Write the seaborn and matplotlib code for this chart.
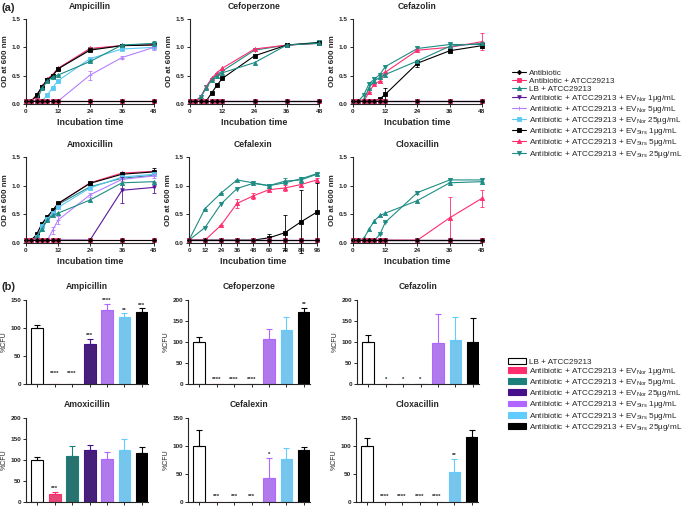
import matplotlib
matplotlib.use("Agg")
import matplotlib.pyplot as plt
from matplotlib.lines import Line2D
from matplotlib.patches import Patch
import seaborn as sns

sns.set_style("ticks")
plt.rcParams['font.family'] = ['Liberation Sans', 'DejaVu Sans']
plt.rcParams['mathtext.fontset'] = 'custom'
plt.rcParams['mathtext.rm'] = 'Liberation Sans'
plt.rcParams['axes.linewidth'] = 0.8

# ---- (a) growth curves: OD600 over incubation time ----
t_h = [0, 2, 4, 6, 8, 10, 12, 24, 36, 48]
t_cefalexin = [0, 12, 24, 36, 48, 60, 72, 84, 96]
base10 = [0.05, 0.05, 0.05, 0.05, 0.05, 0.05, 0.05, 0.05, 0.05, 0.05]
base9 = [0.05, 0.05, 0.05, 0.05, 0.05, 0.05, 0.05, 0.05, 0.05]

series_keys = ["abx", "abx_atcc", "lb", "nor1", "nor5", "nor25", "strs1", "strs5", "strs25"]
series_labels = [
    "Antibiotic",
    "Antibiotic + ATCC29213",
    "LB + ATCC29213",
    "Antibiotic + ATCC29213 + EV$_{\\mathrm{Nor}}$ 1µg/mL",
    "Antibiotic + ATCC29213 + EV$_{\\mathrm{Nor}}$ 5µg/mL",
    "Antibiotic + ATCC29213 + EV$_{\\mathrm{Nor}}$ 25µg/mL",
    "Antibiotic + ATCC29213 + EV$_{\\mathrm{Strs}}$ 1µg/mL",
    "Antibiotic + ATCC29213 + EV$_{\\mathrm{Strs}}$ 5µg/mL",
    "Antibiotic + ATCC29213 + EV$_{\\mathrm{Strs}}$ 25µg/mL",
]

amp_od = {
    "abx": base10, "abx_atcc": base10, "nor1": base10,
    "lb": [0.05, 0.05, 0.05, 0.28, 0.40, 0.48, 0.51, 0.75, 1.04, 1.07],
    "nor5": [0.05, 0.05, 0.05, 0.05, 0.05, 0.05, 0.05, 0.51, 0.82, 1.00],
    "nor25": [0.05, 0.05, 0.05, 0.05, 0.16, 0.29, 0.41, 0.80, 0.97, 1.00],
    "strs1": [0.05, 0.05, 0.16, 0.30, 0.43, 0.50, 0.62, 0.95, 1.03, 1.04],
    "strs5": [0.05, 0.05, 0.15, 0.31, 0.44, 0.52, 0.63, 0.98, 1.03, 1.05],
    "strs25": [0.05, 0.05, 0.14, 0.30, 0.42, 0.50, 0.62, 0.97, 1.03, 1.06],
}
amp_err = {"nor5": [0, 0, 0, 0, 0, 0, 0, 0.08, 0.02, 0.04],
           "lb": [0, 0, 0, 0, 0, 0, 0, 0, 0, 0.05]}

cfp_od = {
    "abx": base10, "abx_atcc": base10, "nor1": base10, "nor5": base10, "nor25": base10,
    "lb": [0.05, 0.05, 0.12, 0.28, 0.42, 0.50, 0.55, 0.73, 1.04, 1.07],
    "strs1": [0.05, 0.05, 0.05, 0.05, 0.19, 0.33, 0.45, 0.85, 1.04, 1.08],
    "strs5": [0.05, 0.05, 0.13, 0.30, 0.45, 0.55, 0.63, 0.97, 1.04, 1.07],
    "strs25": [0.05, 0.05, 0.12, 0.30, 0.43, 0.52, 0.58, 0.95, 1.04, 1.09],
}
cfp_err = {}

cfz_od = {
    "abx": base10, "abx_atcc": base10, "nor1": base10, "nor5": base10, "nor25": base10,
    "lb": [0.05, 0.05, 0.08, 0.29, 0.41, 0.47, 0.52, 0.76, 1.02, 1.07],
    "strs1": [0.05, 0.05, 0.05, 0.05, 0.05, 0.09, 0.17, 0.72, 0.94, 1.03],
    "strs5": [0.05, 0.05, 0.05, 0.21, 0.36, 0.40, 0.56, 0.95, 1.00, 1.10],
    "strs25": [0.05, 0.05, 0.16, 0.36, 0.44, 0.52, 0.66, 0.98, 1.05, 1.05],
}
cfz_err = {"strs1": [0, 0, 0, 0, 0, 0.02, 0.12, 0.06, 0.03, 0.05],
           "strs5": [0, 0, 0, 0, 0, 0, 0, 0, 0, 0.15]}

amx_od = {
    "abx": base10, "abx_atcc": base10,
    "lb": [0.05, 0.05, 0.10, 0.25, 0.40, 0.48, 0.52, 0.75, 1.05, 1.07],
    "nor1": [0.05, 0.05, 0.05, 0.05, 0.05, 0.05, 0.05, 0.05, 0.92, 0.97],
    "nor5": [0.05, 0.05, 0.05, 0.05, 0.05, 0.22, 0.40, 0.84, 1.11, 1.17],
    "nor25": [0.05, 0.05, 0.10, 0.30, 0.42, 0.52, 0.62, 0.96, 1.15, 1.20],
    "strs1": [0.05, 0.05, 0.15, 0.34, 0.46, 0.57, 0.69, 1.04, 1.20, 1.24],
    "strs5": [0.05, 0.05, 0.14, 0.33, 0.45, 0.56, 0.68, 1.05, 1.22, 1.25],
    "strs25": [0.05, 0.05, 0.10, 0.25, 0.40, 0.50, 0.67, 0.98, 1.13, 1.18],
}
amx_err = {"nor1": [0, 0, 0, 0, 0, 0, 0, 0, 0.23, 0.10],
           "nor5": [0, 0, 0, 0, 0, 0.06, 0.07, 0.04, 0.03, 0.03],
           "strs1": [0, 0, 0, 0, 0, 0, 0, 0, 0, 0.06]}

cfx_od = {
    "abx": base9, "abx_atcc": base9, "nor1": base9, "nor5": base9, "nor25": base9,
    "lb": [0.05, 0.60, 0.87, 1.10, 1.05, 1.00, 1.08, 1.10, 1.20],
    "strs1": [0.05, 0.05, 0.05, 0.05, 0.05, 0.09, 0.18, 0.37, 0.54],
    "strs5": [0.05, 0.05, 0.31, 0.69, 0.82, 0.93, 0.96, 1.02, 1.10],
    "strs25": [0.05, 0.27, 0.68, 0.95, 1.04, 1.00, 1.05, 1.12, 1.21],
}
cfx_err = {"strs1": [0, 0, 0, 0, 0, 0.07, 0.30, 0.55, 0.50],
           "strs5": [0, 0, 0, 0.08, 0.06, 0.03, 0.05, 0.03, 0.03],
           "lb": [0, 0, 0, 0, 0, 0, 0.05, 0.05, 0.02]}

clx_od = {
    "abx": base10, "abx_atcc": base10, "nor1": base10, "nor5": base10, "nor25": base10,
    "strs1": base10,
    "lb": [0.05, 0.05, 0.08, 0.24, 0.39, 0.48, 0.52, 0.74, 1.05, 1.07],
    "strs5": [0.05, 0.05, 0.05, 0.05, 0.05, 0.05, 0.05, 0.05, 0.44, 0.78],
    "strs25": [0.05, 0.05, 0.05, 0.05, 0.05, 0.15, 0.36, 0.88, 1.10, 1.10],
}
clx_err = {"strs5": [0, 0, 0, 0, 0, 0, 0, 0, 0.37, 0.15],
           "strs25": [0, 0, 0, 0, 0, 0, 0, 0.03, 0.03, 0.03]}

# ---- (b) %CFU bars ----
bar_keys = ["lb", "nor1", "nor5", "nor25", "strs1", "strs5", "strs25"]
bar_labels = [
    "LB + ATCC29213",
    "Antibiotic + ATCC29213 + EV$_{\\mathrm{Nor}}$ 1µg/mL",
    "Antibiotic + ATCC29213 + EV$_{\\mathrm{Nor}}$ 5µg/mL",
    "Antibiotic + ATCC29213 + EV$_{\\mathrm{Nor}}$ 25µg/mL",
    "Antibiotic + ATCC29213 + EV$_{\\mathrm{Strs}}$ 1µg/mL",
    "Antibiotic + ATCC29213 + EV$_{\\mathrm{Strs}}$ 5µg/mL",
    "Antibiotic + ATCC29213 + EV$_{\\mathrm{Strs}}$ 25µg/mL",
]
amp_cfu = [100, 0, 0, 71, 133, 119, 129]
amp_cfu_err = [5, 0, 0, 9, 10, 7, 6]
amp_sig = ["", "****", "****", "***", "****", "**", "***"]
cfp_cfu = [100, 0, 0, 0, 108, 129, 171]
cfp_cfu_err = [11, 0, 0, 0, 22, 31, 11]
cfp_sig = ["", "****", "****", "****", "", "", "**"]
cfz_cfu = [100, 0, 0, 0, 97, 105, 101]
cfz_cfu_err = [17, 0, 0, 0, 70, 54, 55]
cfz_sig = ["", "*", "*", "*", "", "", ""]
amx_cfu = [100, 20, 109, 125, 103, 125, 117]
amx_cfu_err = [7, 4, 24, 10, 17, 24, 13]
amx_sig = ["", "***", "", "", "", "", ""]
cfx_cfu = [100, 0, 0, 0, 43, 76, 93]
cfx_cfu_err = [29, 0, 0, 0, 36, 20, 5]
cfx_sig = ["", "***", "***", "***", "*", "", ""]
clx_cfu = [100, 0, 0, 0, 0, 53, 116]
clx_cfu_err = [15, 0, 0, 0, 0, 24, 13]
clx_sig = ["", "****", "****", "****", "****", "**", ""]

# styles
PINK, TEAL = "#FF2D6E", "#1E8C84"
line_style = {
    "abx": dict(color="black", marker="D", ms=2.2),
    "abx_atcc": dict(color=PINK, marker="s", ms=2.6),
    "lb": dict(color=TEAL, marker="^", ms=3),
    "nor1": dict(color="#5A189A", marker="v", ms=2.6),
    "nor5": dict(color="#B580FF", marker="+", ms=3.5),
    "nor25": dict(color="#5BC8F5", marker="s", ms=2.8),
    "strs1": dict(color="black", marker="s", ms=3.2),
    "strs5": dict(color=PINK, marker="^", ms=3),
    "strs25": dict(color=TEAL, marker="v", ms=3),
}
bar_colors = ["white", PINK, "#1B7F7B", "#45108A", "#B067FF", "#63CCFF", "black"]

W, H = 685, 508


def box(l, t, r, b):
    return [l / W, 1 - b / H, (r - l) / W, (b - t) / H]


TICK_FS, LAB_FS, TITLE_FS = 4.6, 5.8, 6.2
fig = plt.figure(figsize=(6.85, 5.08), dpi=100)


def style_axis(ax):
    sns.despine(ax=ax)
    ax.tick_params(direction="out", length=2.2, width=0.7, pad=1.5, labelsize=TICK_FS)
    for lab in ax.get_xticklabels() + ax.get_yticklabels():
        lab.set_fontweight("bold")


def growth_panel(rect, title, t, od, err, xmax, xticks):
    ax = fig.add_axes(box(*rect))
    for k in reversed(series_keys):
        s = line_style[k]
        sns.lineplot(x=t, y=od[k], ax=ax, color=s["color"], marker=s["marker"],
                     markersize=s["ms"], markeredgecolor=s["color"], markeredgewidth=0.6,
                     linewidth=0.8, errorbar=None, clip_on=False, legend=False)
        if k in err:
            ax.errorbar(t, od[k], yerr=err[k], fmt="none", ecolor=s["color"],
                        elinewidth=0.6, capsize=1.4, capthick=0.6, clip_on=False)
    ax.set_xlim(0, xmax)
    ax.set_ylim(0, 1.5)
    ax.set_xticks(xticks)
    ax.set_yticks([0, 0.5, 1.0, 1.5])
    ax.set_yticklabels(["0.0", "0.5", "1.0", "1.5"])
    ax.set_xlabel("Incubation time", fontsize=LAB_FS + 0.6, fontweight="bold", labelpad=3)
    ax.set_ylabel("OD at 600 nm", fontsize=LAB_FS, fontweight="bold", labelpad=2)
    ax.set_title(title, fontsize=TITLE_FS, fontweight="bold", pad=7)
    style_axis(ax)
    return ax


std_ticks = [0, 12, 24, 36, 48]
growth_panel((26, 19, 154, 104), "Ampicillin", t_h, amp_od, amp_err, 48, std_ticks)
growth_panel((190, 19, 319, 104), "Cefoperzone", t_h, cfp_od, cfp_err, 48, std_ticks)
growth_panel((353, 19, 482, 104), "Cefazolin", t_h, cfz_od, cfz_err, 48, std_ticks)
growth_panel((26, 157, 154, 243), "Amoxicillin", t_h, amx_od, amx_err, 48, std_ticks)
growth_panel((189, 157, 317, 243), "Cefalexin", t_cefalexin, cfx_od, cfx_err, 96,
             [0, 12, 24, 36, 48, 60, 72, 84, 96])
growth_panel((353, 157, 482, 243), "Cloxacillin", t_h, clx_od, clx_err, 48, std_ticks)


def cfu_panel(rect, title, vals, errs, sig, ymax, step, zero_star):
    ax = fig.add_axes(box(*rect))
    sns.barplot(x=bar_keys, y=vals, hue=bar_keys, palette=bar_colors, legend=False,
                width=0.68, ax=ax, linewidth=0.8)
    for p, c in zip(ax.patches, bar_colors):
        p.set_edgecolor("black" if c == "white" else c)
    for i, (v, e, c) in enumerate(zip(vals, errs, bar_colors)):
        ec = "black" if c == "white" else c
        if e > 0:
            ax.errorbar(i, v, yerr=[[0], [e]], fmt="none", ecolor=ec,
                        elinewidth=0.8, capsize=2.2, capthick=0.8, clip_on=False)
        if sig[i]:
            y = v + e + ymax * 0.01 if v > 0 else zero_star
            ax.text(i, y, sig[i], ha="center", va="bottom", fontsize=4.3,
                    fontweight="bold")
    ax.set_xlim(-0.65, 6.35)
    ax.set_ylim(0, ymax)
    ax.set_yticks(list(range(0, ymax + 1, step)))
    ax.set_xticks(range(7))
    ax.set_xticklabels([])
    ax.set_xlabel("")
    ax.set_ylabel("%CFU", fontsize=5, labelpad=2)
    ax.set_title(title, fontsize=TITLE_FS, fontweight="bold", pad=8)
    style_axis(ax)
    return ax


cfu_panel((26, 300, 148, 384), "Ampicillin", amp_cfu, amp_cfu_err, amp_sig, 150, 50, 14)
cfu_panel((188, 300, 310, 384), "Cefoperzone", cfp_cfu, cfp_cfu_err, cfp_sig, 200, 50, 6)
cfu_panel((357, 300, 479, 384), "Cefazolin", cfz_cfu, cfz_cfu_err, cfz_sig, 200, 50, 6)
cfu_panel((26, 418, 148, 502), "Amoxicillin", amx_cfu, amx_cfu_err, amx_sig, 200, 50, 6)
cfu_panel((188, 418, 310, 502), "Cefalexin", cfx_cfu, cfx_cfu_err, cfx_sig, 150, 50, 5)
cfu_panel((356, 418, 478, 502), "Cloxacillin", clx_cfu, clx_cfu_err, clx_sig, 150, 50, 5)

# legends
LEG_FS = 5.9
line_handles = [Line2D([], [], color=line_style[k]["color"], marker=line_style[k]["marker"],
                       markersize=line_style[k]["ms"], markeredgewidth=0.6, linewidth=0.8)
                for k in series_keys]
fig.legend(line_handles, series_labels, loc="upper left",
           bbox_to_anchor=(512 / W, 1 - 69 / H), frameon=False, fontsize=LEG_FS,
           handlelength=1.7, handletextpad=0.4, labelspacing=0.02,
           borderaxespad=0, borderpad=0)

bar_handles = [Patch(facecolor=c, edgecolor="black" if c == "white" else c, linewidth=0.8)
               for c in bar_colors]
fig.legend(bar_handles, bar_labels, loc="upper left",
           bbox_to_anchor=(508 / W, 1 - 358 / H), frameon=False, fontsize=LEG_FS,
           handlelength=2.2, handleheight=0.7, handletextpad=0.4, labelspacing=0.02,
           borderaxespad=0, borderpad=0)

fig.text(2 / W, 1 - 8 / H, "(a)", fontsize=8, fontweight="bold", va="center")
fig.text(2 / W, 1 - 287 / H, "(b)", fontsize=8, fontweight="bold", va="center")

fig.savefig("out.png", dpi=100)
